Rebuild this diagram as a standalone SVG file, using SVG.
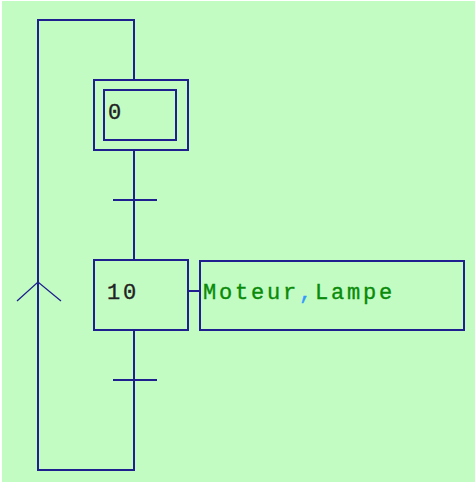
<svg xmlns="http://www.w3.org/2000/svg" width="475" height="482" viewBox="0 0 475 482">
<style>
.ln{stroke:#1f1f8f;stroke-width:2;fill:none}
.thin{stroke:#1f1f8f;stroke-width:1.3;fill:none}
.t{font-family:"Liberation Mono","DejaVu Sans Mono",monospace;font-size:22px;letter-spacing:2.8px;stroke-width:0.35px}
</style>
<rect x="0" y="0" width="475" height="482" fill="#ffffff"/>
<rect x="2" y="1" width="473" height="481" fill="#c2fcc2"/>
<g id="connectors">
<path class="ln" d="M134,80 V20 H38 V470 H134 V330"/>
<path class="ln" d="M134,150 V260"/>
<path class="ln" d="M113,200 H157"/>
<path class="ln" d="M113,380 H157"/>
<path class="ln" d="M188,291 H200"/>
<path class="thin" d="M17,301 L38,282 L61,301"/>
</g>
<g id="step0">
<rect class="ln" x="94" y="80" width="94" height="70"/>
<rect class="ln" x="104" y="90" width="72" height="50"/>
<text class="t" x="108" y="119" fill="#222222" stroke="#222222">0</text>
</g>
<g id="step10">
<rect class="ln" x="94" y="260" width="94" height="70"/>
<text class="t" x="107" y="299" fill="#222222" stroke="#222222">10</text>
</g>
<g id="action10">
<rect class="ln" x="200" y="261" width="264" height="69"/>
<text class="t" x="203" y="299" fill="#0a8a0a" stroke="#0a8a0a">Moteur<tspan fill="#3399ff" stroke="#3399ff">,</tspan>Lampe</text>
</g>
</svg>
